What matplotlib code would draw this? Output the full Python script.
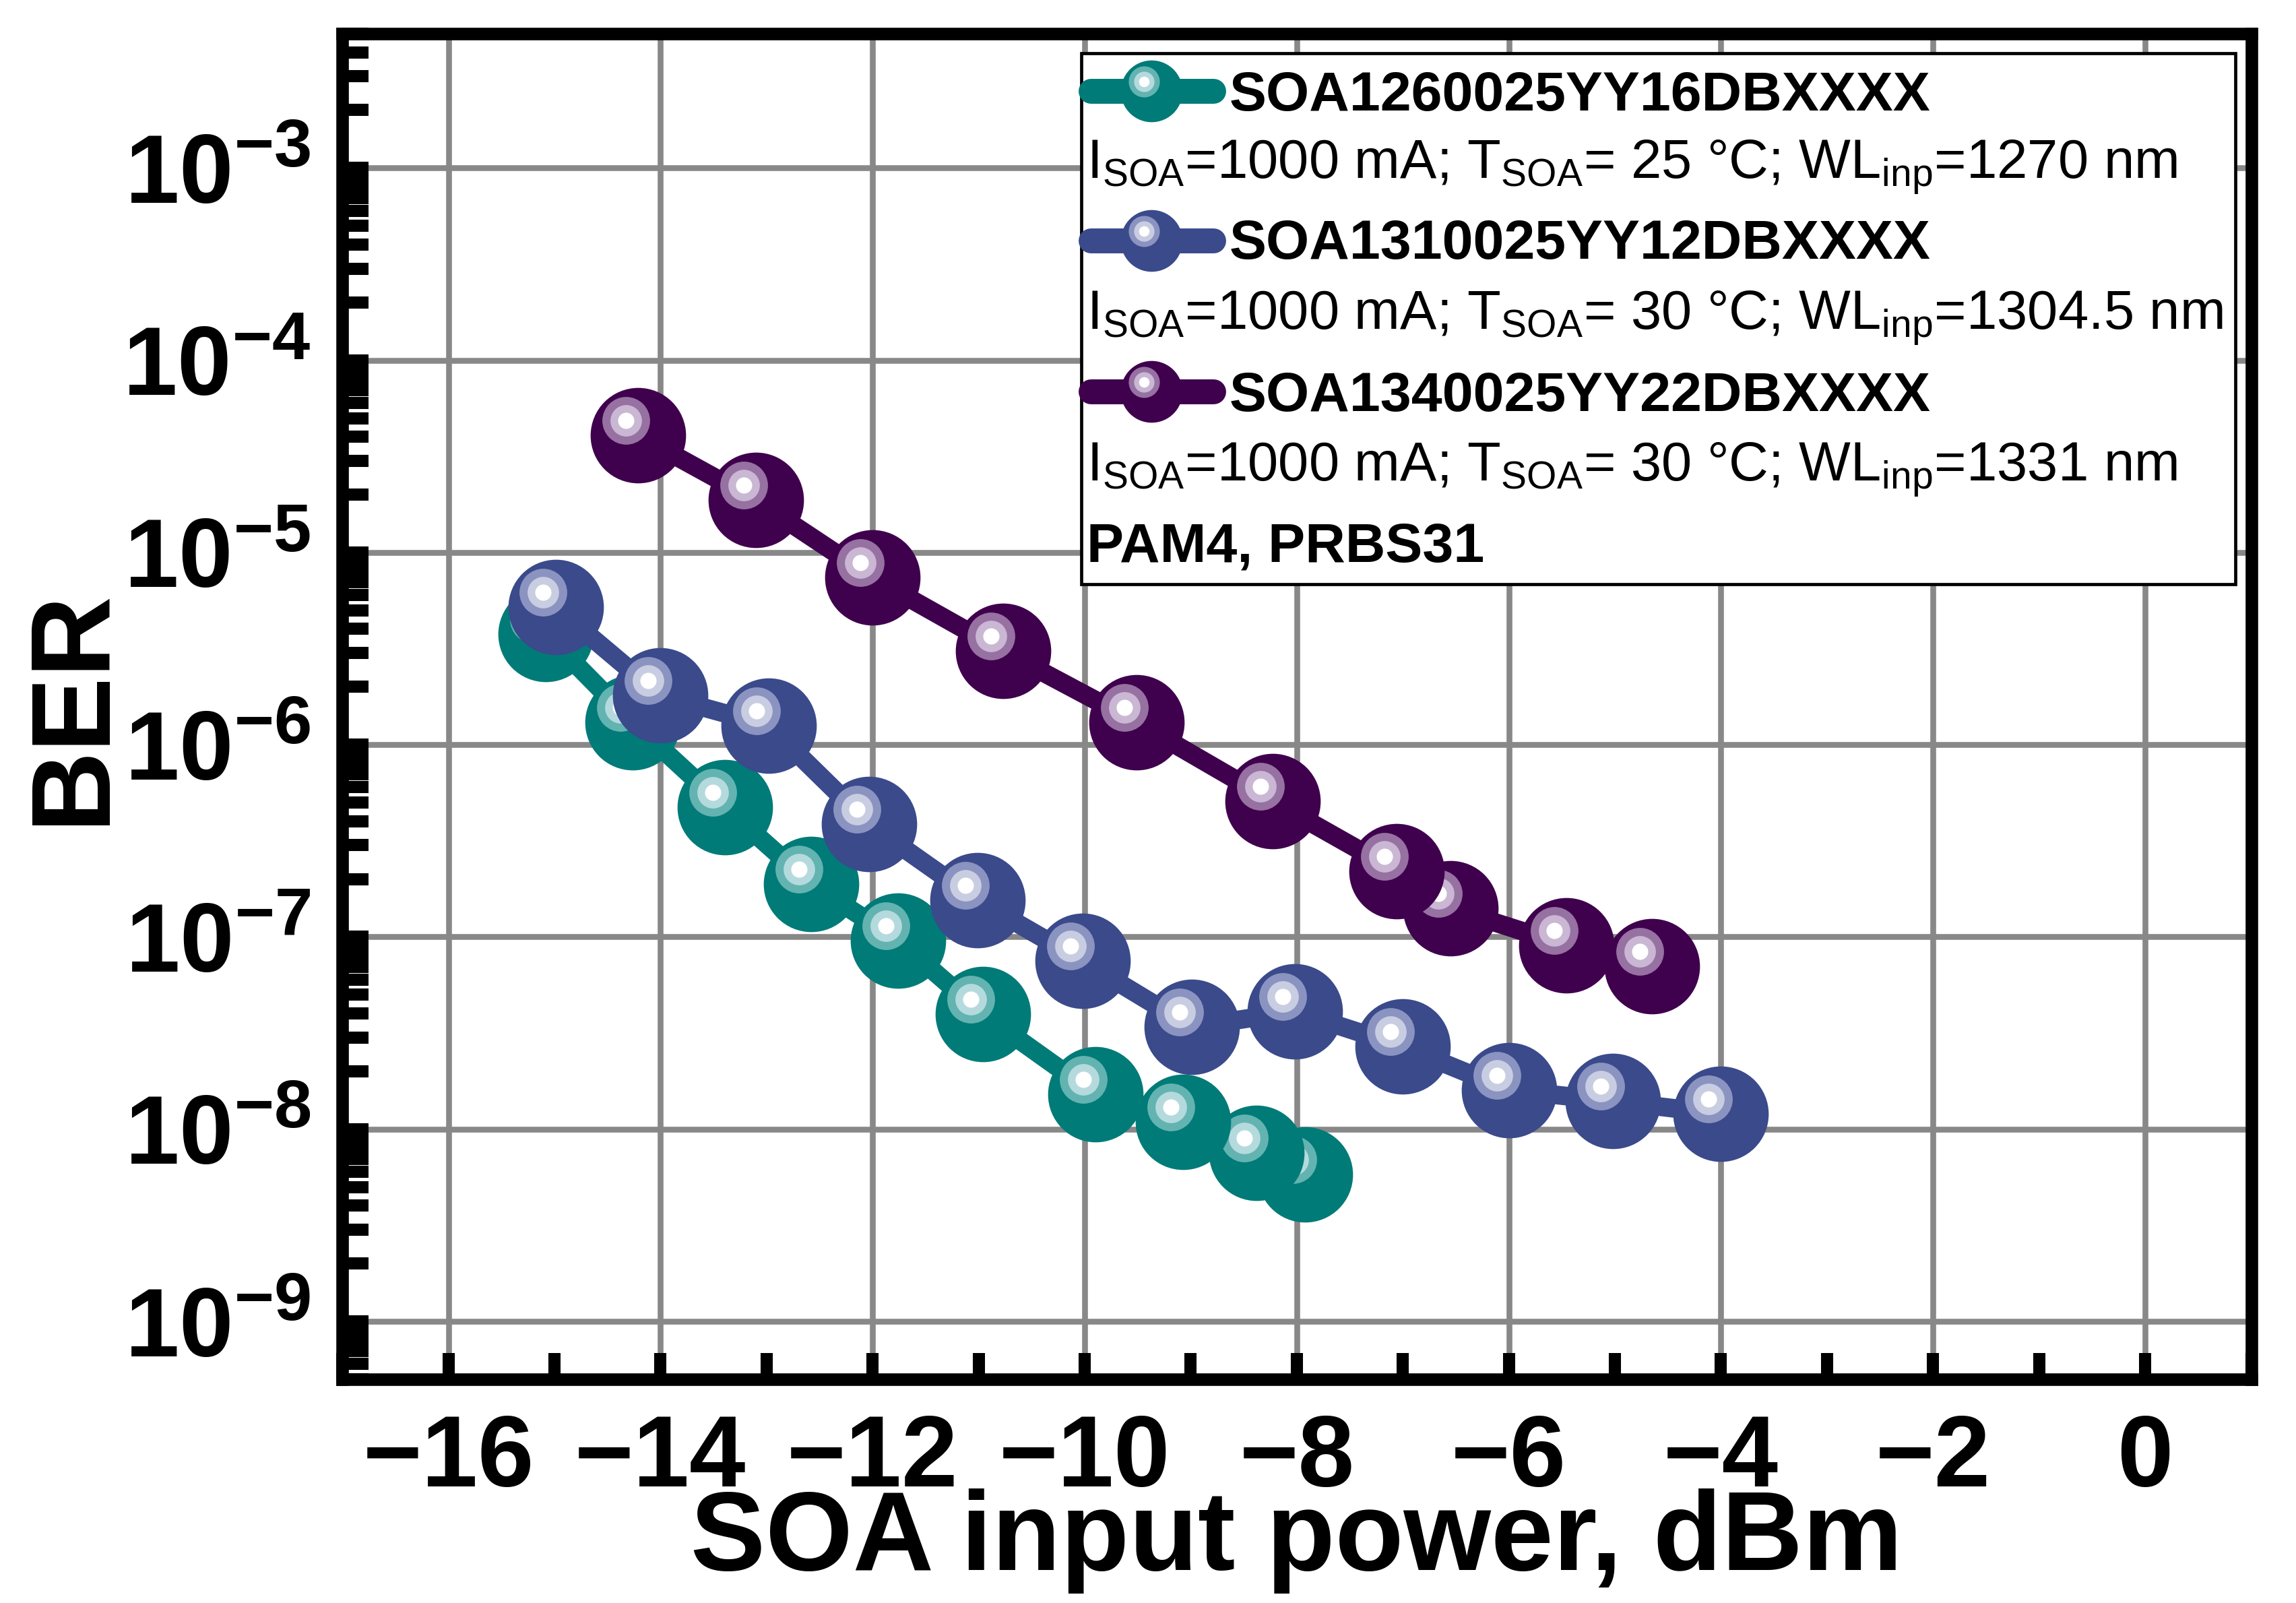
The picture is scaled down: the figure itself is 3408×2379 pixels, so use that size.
import numpy as np
import matplotlib
matplotlib.use('Agg')
import matplotlib.pyplot as plt
import matplotlib.transforms as mtransforms
from matplotlib.patches import Rectangle
from matplotlib.ticker import MultipleLocator, LogLocator, NullFormatter

# 데이터
x_1260 = [-15.08, -14.26, -13.39, -12.58, -11.76, -10.96, -9.90, -9.07, -8.38, -7.92]
ber_1260 = [3.77e-6, 1.31e-6, 4.73e-7, 1.89e-7, 9.6e-8, 3.97e-8, 1.52e-8, 1.09e-8, 7.5e-9, 5.8e-9]

x_1310 = [-14.99, -14.0, -12.98, -12.03, -11.01, -10.02, -8.99, -8.02, -7.0, -6.0, -5.02, -4.0]
ber_1310 = [5.2e-6, 1.8e-6, 1.26e-6, 3.86e-7, 1.55e-7, 7.5e-8, 3.4e-8, 4.1e-8, 2.69e-8, 1.6e-8, 1.4e-8, 1.2e-8]

x_1340 = [-14.21, -13.10, -12.0, -10.77, -9.51, -8.23, -7.06, -6.55, -5.46, -4.65]
ber_1340 = [4.06e-5, 1.87e-5, 7.4e-6, 3.07e-6, 1.31e-6, 5.1e-7, 2.2e-7, 1.41e-7, 9.06e-8, 7.05e-8]

names = ['SOA1260025YY16DBXXXX', 'SOA1310025YY12DBXXXX', 'SOA1340025YY22DBXXXX']
descs = [r'I$_{SOA}$=1000 mA; T$_{SOA}$= 25 °C; WL$_{inp}$=1270 nm',
         r'I$_{SOA}$=1000 mA; T$_{SOA}$= 30 °C; WL$_{inp}$=1304.5 nm',
         r'I$_{SOA}$=1000 mA; T$_{SOA}$= 30 °C; WL$_{inp}$=1331 nm']
footer = 'PAM4, PRBS31'

# 색: 본체, 링, 안쪽
colors = [('#007b78', '#63b3b1', '#b4dade'),
          ('#3a4a8b', '#8b93c1', '#c8cde1'),
          ('#3f004d', '#9671a2', '#c9b7d4')]

plt.rcParams['font.family'] = ['Liberation Sans', 'DejaVu Sans']
plt.rcParams['font.weight'] = 'bold'
plt.rcParams['mathtext.fontset'] = 'custom'
plt.rcParams['mathtext.rm'] = 'Liberation Sans'
plt.rcParams['mathtext.bf'] = 'Liberation Sans:bold'
plt.rcParams['mathtext.default'] = 'regular'

fig = plt.figure(figsize=(17.04, 11.895), dpi=200)
ax = fig.add_axes([0.1491, 0.1396, 0.8314, 0.8394])


def sphere(ax, x, y, c, size, off, base_tr):
    # 3D 구 모양 마커: 본체 + 오프셋된 하이라이트
    tr = base_tr + mtransforms.ScaledTranslation(off[0] / 72, off[1] / 72, fig.dpi_scale_trans)
    ax.plot([x], [y], 'o', ms=size, color=c[0], mec='none', transform=base_tr, clip_on=False)
    ax.plot([x], [y], 'o', ms=size * 0.5, color=c[1], mec='none', transform=tr, clip_on=False)
    ax.plot([x], [y], 'o', ms=size * 0.33, color=c[2], mec='none', transform=tr, clip_on=False)
    ax.plot([x], [y], 'o', ms=size * 0.17, color='white', mec='none', transform=tr, clip_on=False)


series = [(x_1260, ber_1260), (x_1310, ber_1310), (x_1340, ber_1340)]
for (xs, ys), c in zip(series, colors):
    ax.plot(xs, ys, '-', color=c[0], lw=10, solid_capstyle='round')
    for i in reversed(range(len(xs))):
        sphere(ax, xs[i], ys[i], c, 51, (-6.5, 7.9), ax.transData)

ax.set_yscale('log')
ax.set_xlim(-17, 1)
ax.set_ylim(5e-10, 5e-3)
ax.xaxis.set_major_locator(MultipleLocator(2))
ax.xaxis.set_minor_locator(MultipleLocator(1))
ax.yaxis.set_major_locator(LogLocator(base=10, numticks=20))
ax.yaxis.set_minor_locator(LogLocator(base=10, subs=np.arange(2, 10), numticks=20))
ax.yaxis.set_minor_formatter(NullFormatter())

ax.grid(True, which='major', color='#888888', lw=3.1)
ax.set_axisbelow(True)
for s in ax.spines.values():
    s.set_linewidth(6.7)
ax.tick_params(which='both', direction='in', width=6.5, length=14, top=False, right=False)
ax.tick_params(axis='x', labelsize=54, pad=18)
ax.tick_params(axis='y', labelsize=52, pad=17)

ax.set_xlabel('SOA input power, dBm', fontsize=60, fontweight='bold', labelpad=-10)
ax.set_ylabel('BER', fontsize=60, fontweight='bold', labelpad=-2)

# 범례 (수동)
ta = ax.transAxes
ax.add_patch(Rectangle((0.3872, 0.5909), 0.9917 - 0.3872, 0.9857 - 0.5909, transform=ta,
                       facecolor='white', edgecolor='black', lw=1.7, zorder=5))
name_y = [0.9574, 0.8463, 0.7343]
name_base = [0.9430, 0.8328, 0.7196]
desc_base = [0.8921, 0.7803, 0.6675]
for k in range(3):
    c = colors[k]
    ax.plot([0.392, 0.4563], [name_y[k], name_y[k]], '-', color=c[0], lw=13.3,
            solid_capstyle='round', transform=ta, zorder=6)
    tr = ta + mtransforms.ScaledTranslation(-4.3 / 72, 5.0 / 72, fig.dpi_scale_trans)
    ax.plot([0.424], [name_y[k]], 'o', ms=33, color=c[0], mec='none', transform=ta, zorder=6)
    ax.plot([0.424], [name_y[k]], 'o', ms=16.6, color=c[1], mec='none', transform=tr, zorder=6)
    ax.plot([0.424], [name_y[k]], 'o', ms=10.9, color=c[2], mec='none', transform=tr, zorder=6)
    ax.plot([0.424], [name_y[k]], 'o', ms=5.6, color='white', mec='none', transform=tr, zorder=6)
    ax.text(0.4645, name_base[k], names[k], transform=ta, fontsize=29.7, fontweight='bold',
            va='baseline', ha='left', zorder=7)
    ax.text(0.3900, desc_base[k], descs[k], transform=ta, fontsize=29.3, fontweight='normal',
            va='baseline', ha='left', zorder=7)
ax.text(0.3900, 0.6074, footer, transform=ta, fontsize=29.7, fontweight='bold',
        va='baseline', ha='left', zorder=7)

fig.savefig('out.png', dpi=200)
